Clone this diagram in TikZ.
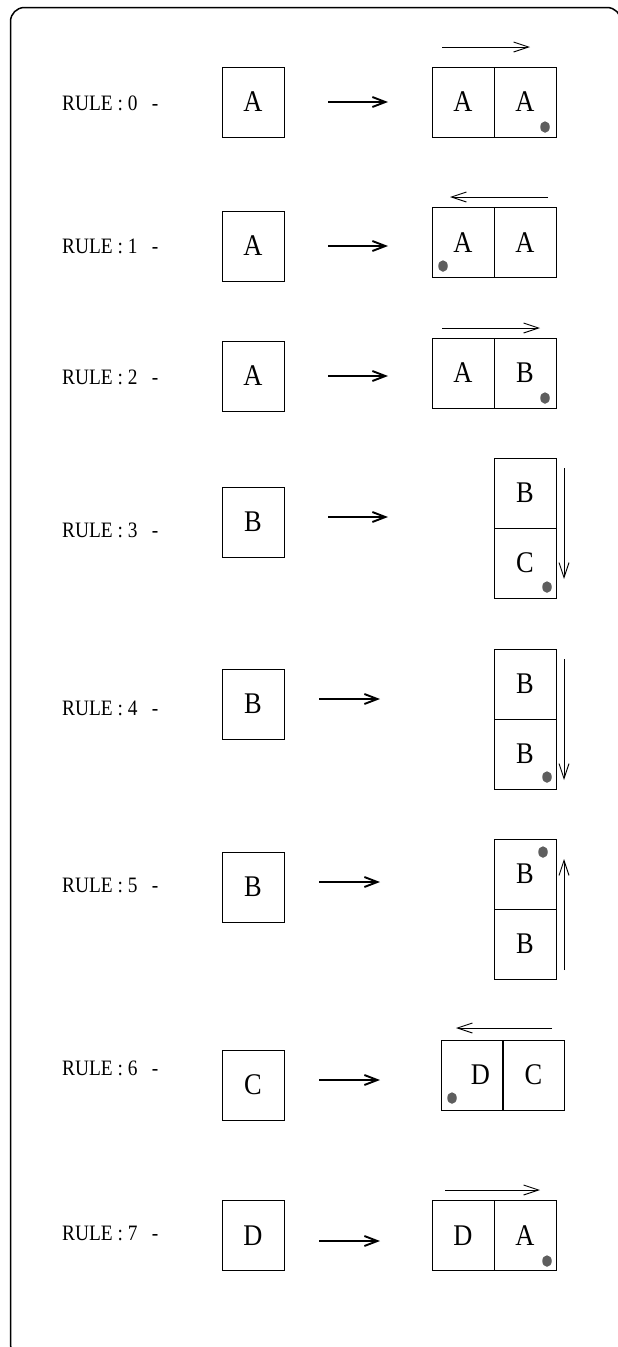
\documentclass[tikz,border=0pt]{standalone}
\usepackage{fontspec}
\setmainfont{Liberation Serif}[FakeStretch=0.88]
\usetikzlibrary{arrows.meta,shapes.geometric}
\definecolor{dotgray}{HTML}{5E5E5E}
\begin{document}
\begin{tikzpicture}[x=1pt,y=-1pt,
  cell/.style={draw,line width=1pt,minimum width=62pt,minimum height=70pt,inner sep=0pt,
    font=\fontsize{30}{30}\selectfont},
  rulelabel/.style={anchor=west,inner sep=0pt,font=\fontsize{22}{22}\selectfont},
  bigarrow/.style={line width=1.9pt,-{Straight Barb[length=13pt,width=10pt]}},
  thinarrow/.style={line width=0.9pt,-{Straight Barb[length=15pt,width=10pt]}},
  dot/.style={ellipse,fill=dotgray,draw=none,minimum width=9.5pt,minimum height=11.5pt,inner sep=0pt},
  frame/.style={line width=1.5pt,rounded corners=14pt}]
\useasboundingbox (0,0) rectangle (618,1347);
\begin{scope}
\clip (0,0) rectangle (618,1347);
\draw[frame] (10.5,7.5) rectangle (621,1358);
\end{scope}

% RULE 0
\node[rulelabel] (lab0) at (62,103) {RULE : 0 \ \ -};
\node[cell] (l0) at (253,102) {A};
\coordinate (a0s) at (328,102); \coordinate (a0e) at (388,102);
\draw[bigarrow] (a0s) -- (a0e);
\node[cell] (r0a) at (463,102) {A};
\node[cell] (r0b) at (525,102) {A};
\coordinate (t0s) at (442,47); \coordinate (t0e) at (530,47);
\draw[thinarrow] (t0s) -- (t0e);
\node[dot] (d0) at (545,127) {};

% RULE 1
\node[rulelabel] (lab1) at (62,246) {RULE : 1 \ \ -};
\node[cell] (l1) at (253,246) {A};
\coordinate (a1s) at (328,246); \coordinate (a1e) at (388,246);
\draw[bigarrow] (a1s) -- (a1e);
\node[cell] (r1a) at (463,242.5) {A};
\node[cell] (r1b) at (525,242.5) {A};
\coordinate (t1s) at (548,197); \coordinate (t1e) at (450,197);
\draw[thinarrow] (t1s) -- (t1e);
\node[dot] (d1) at (443,266) {};

% RULE 2
\node[rulelabel] (lab2) at (62,377) {RULE : 2 \ \ -};
\node[cell] (l2) at (253,376) {A};
\coordinate (a2s) at (328,376); \coordinate (a2e) at (388,376);
\draw[bigarrow] (a2s) -- (a2e);
\node[cell] (r2a) at (463,373) {A};
\node[cell] (r2b) at (525,373) {B};
\coordinate (t2s) at (442,328); \coordinate (t2e) at (540,328);
\draw[thinarrow] (t2s) -- (t2e);
\node[dot] (d2) at (545,398) {};

% RULE 3
\node[rulelabel] (lab3) at (62,530) {RULE : 3 \ \ -};
\node[cell] (l3) at (253,522) {B};
\coordinate (a3s) at (328,517); \coordinate (a3e) at (388,517);
\draw[bigarrow] (a3s) -- (a3e);
\node[cell] (r3a) at (525,493) {B};
\node[cell] (r3b) at (525,563) {C};
\coordinate (v3s) at (564,468); \coordinate (v3e) at (564,579);
\draw[thinarrow] (v3s) -- (v3e);
\node[dot] (d3) at (547,587) {};

% RULE 4
\node[rulelabel] (lab4) at (62,708) {RULE : 4 \ \ -};
\node[cell] (l4) at (253,704) {B};
\coordinate (a4s) at (319,699); \coordinate (a4e) at (380,699);
\draw[bigarrow] (a4s) -- (a4e);
\node[cell] (r4a) at (525,684) {B};
\node[cell] (r4b) at (525,754) {B};
\coordinate (v4s) at (564,659); \coordinate (v4e) at (564,780);
\draw[thinarrow] (v4s) -- (v4e);
\node[dot] (d4) at (547,777) {};

% RULE 5
\node[rulelabel] (lab5) at (62,885) {RULE : 5 \ \ -};
\node[cell] (l5) at (253,887) {B};
\coordinate (a5s) at (319,882); \coordinate (a5e) at (380,882);
\draw[bigarrow] (a5s) -- (a5e);
\node[cell] (r5a) at (525,874) {B};
\node[cell] (r5b) at (525,944) {B};
\coordinate (v5s) at (564,970); \coordinate (v5e) at (564,859);
\draw[thinarrow] (v5s) -- (v5e);
\node[dot] (d5) at (543,852) {};

% RULE 6
\node[rulelabel] (lab6) at (62,1068) {RULE : 6 \ \ -};
\node[cell] (l6) at (253,1085) {C};
\coordinate (a6s) at (319,1080); \coordinate (a6e) at (380,1080);
\draw[bigarrow] (a6s) -- (a6e);
\node[cell] (r6a) at (472.5,1075) {\hspace*{16pt}D};
\node[cell] (r6b) at (533.5,1075) {C};
\coordinate (t6s) at (552,1028); \coordinate (t6e) at (456,1028);
\draw[thinarrow] (t6s) -- (t6e);
\node[dot] (d6) at (452,1098) {};

% RULE 7
\node[rulelabel] (lab7) at (62,1233) {RULE : 7 \ \ -};
\node[cell] (l7) at (253,1235.5) {D};
\coordinate (a7s) at (319,1241); \coordinate (a7e) at (380,1241);
\draw[bigarrow] (a7s) -- (a7e);
\node[cell] (r7a) at (463,1235.5) {D};
\node[cell] (r7b) at (525,1235.5) {A};
\coordinate (t7s) at (445,1190); \coordinate (t7e) at (540,1190);
\draw[thinarrow] (t7s) -- (t7e);
\node[dot] (d7) at (547,1261) {};
\end{tikzpicture}
\end{document}
